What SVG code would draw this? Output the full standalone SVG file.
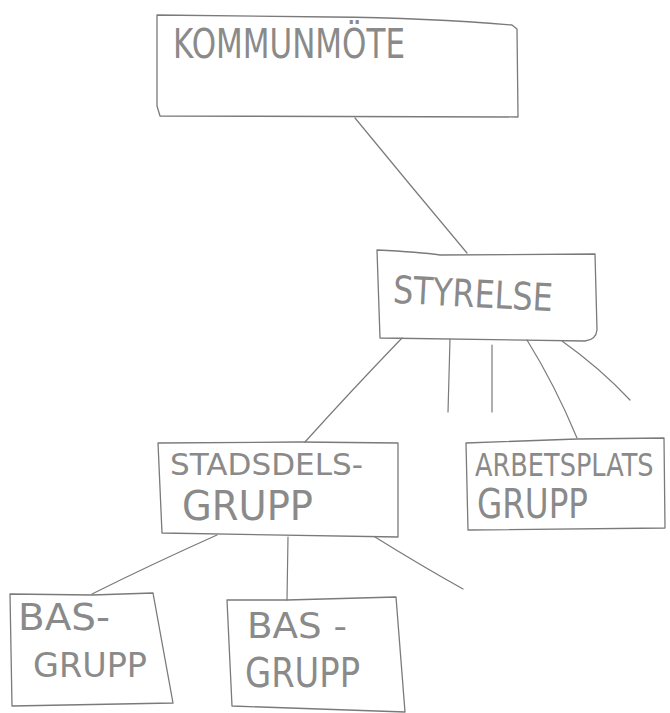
<svg xmlns="http://www.w3.org/2000/svg" width="670" height="713" viewBox="0 0 670 713">
<style>
.box{fill:none;stroke:#7a7a7a;stroke-width:1.3;stroke-linejoin:round}
.edge{fill:none;stroke:#7a7a7a;stroke-width:1.2;stroke-linecap:round}
.t{font-family:"DejaVu Sans","Liberation Sans",sans-serif;fill:#8a8a8a;font-weight:normal}
</style>
<rect x="0" y="0" width="670" height="713" fill="#ffffff"/>
<g id="connectors">
<path class="edge" d="M355,118 Q410,185 467,253"/>
<path class="edge" d="M402,338 Q350,392 305,442"/>
<path class="edge" d="M450,339 L448,412"/>
<path class="edge" d="M492,345 L492,412"/>
<path class="edge" d="M527,340 Q555,385 577,438"/>
<path class="edge" d="M562,341 Q600,368 630,400"/>
<path class="edge" d="M217,535 Q150,565 92,594"/>
<path class="edge" d="M288,537 L287,600"/>
<path class="edge" d="M375,537 Q420,565 463,589"/>
</g>
<g id="kommunmote">
<path class="box" d="M157,15 L330,17 Q430,18 512,25 L517,29 L518,117 L160,116 L157,106 Z"/>
<text class="t" x="173" y="58" font-size="41" textLength="232" lengthAdjust="spacingAndGlyphs">KOMMUNMÖTE</text>
</g>
<g id="styrelse">
<path class="box" d="M377,250 Q420,252 440,255 L595,254 L597,330 Q596,340 585,341 L380,338 Z"/>
<text class="t" x="393" y="307" font-size="38" textLength="160" lengthAdjust="spacingAndGlyphs" transform="rotate(3 473 295)">STYRELSE</text>
</g>
<g id="stadsdelsgrupp">
<path class="box" d="M158,443 L300,442 L398,443 L398,537 L162,533 Z"/>
<text class="t" x="170" y="475" font-size="30" textLength="193" lengthAdjust="spacingAndGlyphs">STADSDELS-</text>
<text class="t" x="182" y="520" font-size="40" textLength="131" lengthAdjust="spacingAndGlyphs">GRUPP</text>
</g>
<g id="arbetsplatsgrupp">
<path class="box" d="M466,443 L577,439 L664,438 L665,528 L468,530 Z"/>
<text class="t" x="0" y="0" font-size="32" transform="translate(475,476) scale(0.8,1)">ARBETSPLATS</text>
<text class="t" x="477" y="518" font-size="40" textLength="111" lengthAdjust="spacingAndGlyphs">GRUPP</text>
</g>
<g id="basgrupp1">
<path class="box" d="M10,594 L92,595 L153,593 L173,703 L12,706 Z"/>
<text class="t" x="18" y="630" font-size="38" textLength="92" lengthAdjust="spacingAndGlyphs">BAS-</text>
<text class="t" x="33" y="677" font-size="33" textLength="114" lengthAdjust="spacingAndGlyphs">GRUPP</text>
</g>
<g id="basgrupp2">
<path class="box" d="M227,600 L287,600 L396,597 L405,712 L232,706 Z"/>
<text class="t" x="247" y="638" font-size="36" textLength="100" lengthAdjust="spacingAndGlyphs">BAS -</text>
<text class="t" x="245" y="687" font-size="40" textLength="115" lengthAdjust="spacingAndGlyphs">GRUPP</text>
</g>
</svg>
